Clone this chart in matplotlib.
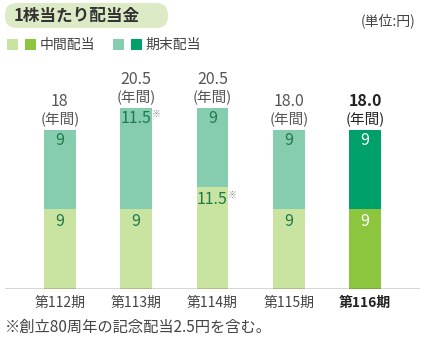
import matplotlib.pyplot as plt
from matplotlib.patches import FancyBboxPatch, Rectangle

plt.rcParams["font.family"] = ["Noto Sans CJK JP", "DejaVu Sans"]

periods = ["第112期", "第113期", "第114期", "第115期", "第116期"]
interim = [9, 9, 11.5, 9, 9]
year_end = [9, 11.5, 9, 9, 9]
totals = ["18", "20.5", "20.5", "18.0", "18.0"]
interim_lbl = ["9", "9", "11.5", "9", "9"]
year_end_lbl = ["9", "11.5", "9", "9", "9"]
note_interim = [False, False, True, False, False]
note_year_end = [False, True, False, False, False]

LIGHT_INT, DARK_INT = "#c9e3a0", "#8cc63f"
LIGHT_END, DARK_END = "#86cdb0", "#00a06b"
TXT_GREEN = "#1f7a4c"

W, H = 432, 343
fig = plt.figure(figsize=(W / 100, H / 100), dpi=100)

# overlay in pixel coords for header / legend / footnote
ov = fig.add_axes([0, 0, 1, 1])
ov.set_xlim(0, W)
ov.set_ylim(H, 0)
ov.axis("off")

# axes: x 5..420 px, y baseline 289 px, top 60 px
ax = fig.add_axes([5 / W, (H - 289) / H, 415 / W, 229 / H])
ax.set_xlim(-0.72, 4.72)
ax.set_ylim(0, 25.9)
ax.axis("off")
ax.axhline(0, color="#333333", lw=1.0)

x = list(range(len(periods)))
bw = 0.415
last = len(periods) - 1
for i in x:
    ci = DARK_INT if i == last else LIGHT_INT
    ce = DARK_END if i == last else LIGHT_END
    tc = "white" if i == last else TXT_GREEN
    ax.bar(i, interim[i], width=bw, color=ci, linewidth=0)
    ax.bar(i, year_end[i], bottom=interim[i], width=bw, color=ce, linewidth=0)
    top = interim[i] + year_end[i]
    ax.annotate(interim_lbl[i], (i, interim[i]), xytext=(0, -9), textcoords="offset points",
                ha="center", va="center", fontsize=11.5, color=tc)
    ax.annotate(year_end_lbl[i], (i, top), xytext=(0, -8), textcoords="offset points",
                ha="center", va="center", fontsize=11.5, color=tc)
    if note_interim[i]:
        ax.annotate("※", (i, interim[i]), xytext=(14.5, -6), textcoords="offset points",
                    ha="center", va="center", fontsize=6.5, color="#888888")
    if note_year_end[i]:
        ax.annotate("※", (i, top), xytext=(14.5, -5), textcoords="offset points",
                    ha="center", va="center", fontsize=6.5, color="#888888")
    bold = "bold" if i == last else "normal"
    lc = "#222222" if i == last else "#555555"
    ax.annotate("(年間)", (i, top), xytext=(0, 8), textcoords="offset points",
                ha="center", va="center", fontsize=10.5, color=lc)
    ax.annotate(totals[i], (i, top), xytext=(0, 20.5), textcoords="offset points",
                ha="center", va="center", fontsize=11.5, color=lc, fontweight=bold)
    ax.annotate(periods[i], (i, 0), xytext=(0, -10), textcoords="offset points",
                ha="center", va="center", fontsize=10, color="#222222" if i == last else "#444444",
                fontweight=bold)

# title pill
ov.add_patch(FancyBboxPatch((5, 3), 163, 25, boxstyle="round,pad=0,rounding_size=12",
                            facecolor="#dcebc6", edgecolor="none"))
ov.text(14, 16, "1株当たり配当金", fontsize=12, fontweight="bold",
        color="#333333", ha="left", va="center")
ov.text(416, 21, "(単位:円)", fontsize=10, color="#444444", ha="right", va="center")

# legend
for xs, col in [(7, LIGHT_INT), (25, DARK_INT), (113, LIGHT_END), (131, DARK_END)]:
    ov.add_patch(Rectangle((xs, 39), 11, 11, facecolor=col, edgecolor="none"))
ov.text(40, 44.5, "中間配当", fontsize=10, color="#444444", ha="left", va="center")
ov.text(145, 44.5, "期末配当", fontsize=10, color="#444444", ha="left", va="center")

ov.text(5, 327, "※創立80周年の記念配当2.5円を含む。", fontsize=11,
        color="#444444", ha="left", va="center")

fig.savefig("out.png", dpi=100, facecolor="white")
